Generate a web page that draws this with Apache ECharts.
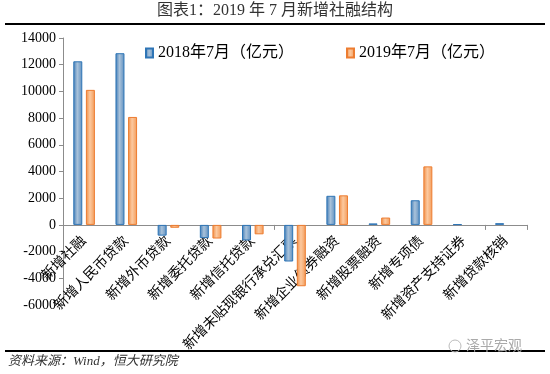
<!DOCTYPE html>
<html><head><meta charset="utf-8">
<script src="https://cdn.jsdelivr.net/npm/echarts@6/dist/echarts.min.js"></script>
<style>html,body{margin:0;padding:0;background:#fff}#c{width:550px;height:374px}</style>
</head><body><div id="c"></div>
<script>
const categories = ['新增社融','新增人民币贷款','新增外币贷款','新增委托贷款','新增信托贷款','新增未贴现银行承兑汇票','新增企业债券融资','新增股票融资','新增专项债','新增资产支持证券','新增贷款核销'];
const s2018 = [12254, 12861, -805, -990, -1164, -2742, 2180, 110, 1846, 50, 130];
const s2019 = [10115, 8086, -215, -1020, -706, -4595, 2215, 550, 4385, null, null];
const seriesNames = ['2018年7月（亿元）','2019年7月（亿元）'];
const yTicks = {min:-6000, max:14000, interval:2000};

const chart = echarts.init(document.getElementById('c'));
const cjk = '"Liberation Serif","Noto Sans CJK SC",serif';
const blueGrad = new echarts.graphic.LinearGradient(0,0,1,0,[{offset:0,color:'#3f7bb6'},{offset:0.45,color:'#a9c2da'},{offset:1,color:'#5d8fc0'}]);
const orangeGrad = new echarts.graphic.LinearGradient(0,0,1,0,[{offset:0,color:'#f08c43'},{offset:0.45,color:'#fcc99f'},{offset:1,color:'#f29a58'}]);
// offset of the label axis = distance from grid bottom to zero line
const gridTop = 38, gridBottom = 69, plotH = 374 - gridTop - gridBottom;
const zeroOffset = -plotH * (0 - yTicks.min) / (yTicks.max - yTicks.min);
chart.setOption({
  animation:false,
  grid:{left:63,right:23,top:gridTop,bottom:gridBottom,containLabel:false,outerBoundsMode:'none'},
  legend:{left:140,top:40,itemWidth:7,itemHeight:9,itemGap:52,
    textStyle:{fontFamily:cjk,fontSize:16,color:'#000'},
    data:[{name:seriesNames[0],icon:'rect'},{name:seriesNames[1],icon:'rect'}]},
  xAxis:[{type:'category',data:categories,
    axisLine:{onZero:true,lineStyle:{color:'#8c8c8c',width:1}},
    axisTick:{show:true,length:5,lineStyle:{color:'#8c8c8c'}},
    axisLabel:{show:false}},
   {type:'category',data:categories,position:'bottom',offset:zeroOffset,
    axisLine:{show:false,onZero:false},axisTick:{show:false},
    axisLabel:{interval:0,rotate:45,margin:14,fontFamily:cjk,fontSize:14,color:'#000'}}],
  yAxis:{type:'value',min:yTicks.min,max:yTicks.max,interval:yTicks.interval,
    splitLine:{show:false},
    axisLine:{show:true,lineStyle:{color:'#8c8c8c'}},
    axisTick:{show:true,length:4,lineStyle:{color:'#8c8c8c'}},
    axisLabel:{fontFamily:'"Liberation Serif",serif',fontSize:14,color:'#000',margin:7,formatter:v=>String(v)}},
  series:[
    {name:seriesNames[0],type:'bar',data:s2018,barWidth:9,barGap:'40%',
     itemStyle:{color:blueGrad,borderColor:'#2e75b6',borderWidth:1}},
    {name:seriesNames[1],type:'bar',data:s2019,barWidth:9,
     itemStyle:{color:orangeGrad,borderColor:'#ed7d31',borderWidth:1}}
  ],
  graphic:[
    {type:'text',left:'center',top:3,style:{text:'图表1：2019 年 7 月新增社融结构',font:'16px '+cjk,fill:'#333'}},
    {type:'rect',shape:{x:5,y:23,width:540,height:2},style:{fill:'#000'}},
    {type:'rect',shape:{x:5,y:350,width:540,height:2},style:{fill:'#000'}},
    {type:'text',left:8,top:355,style:{text:'资料来源：Wind，恒大研究院',font:'italic 13px '+cjk,fill:'#333'}},
    {type:'text',left:466,top:338,style:{text:'泽平宏观',font:'14px "Noto Sans CJK SC"',fill:'#aaa'}},
    {type:'circle',shape:{cx:455,cy:346,r:6},style:{fill:'none',stroke:'#bbb',lineWidth:1}}
  ]
});
</script></body></html>
